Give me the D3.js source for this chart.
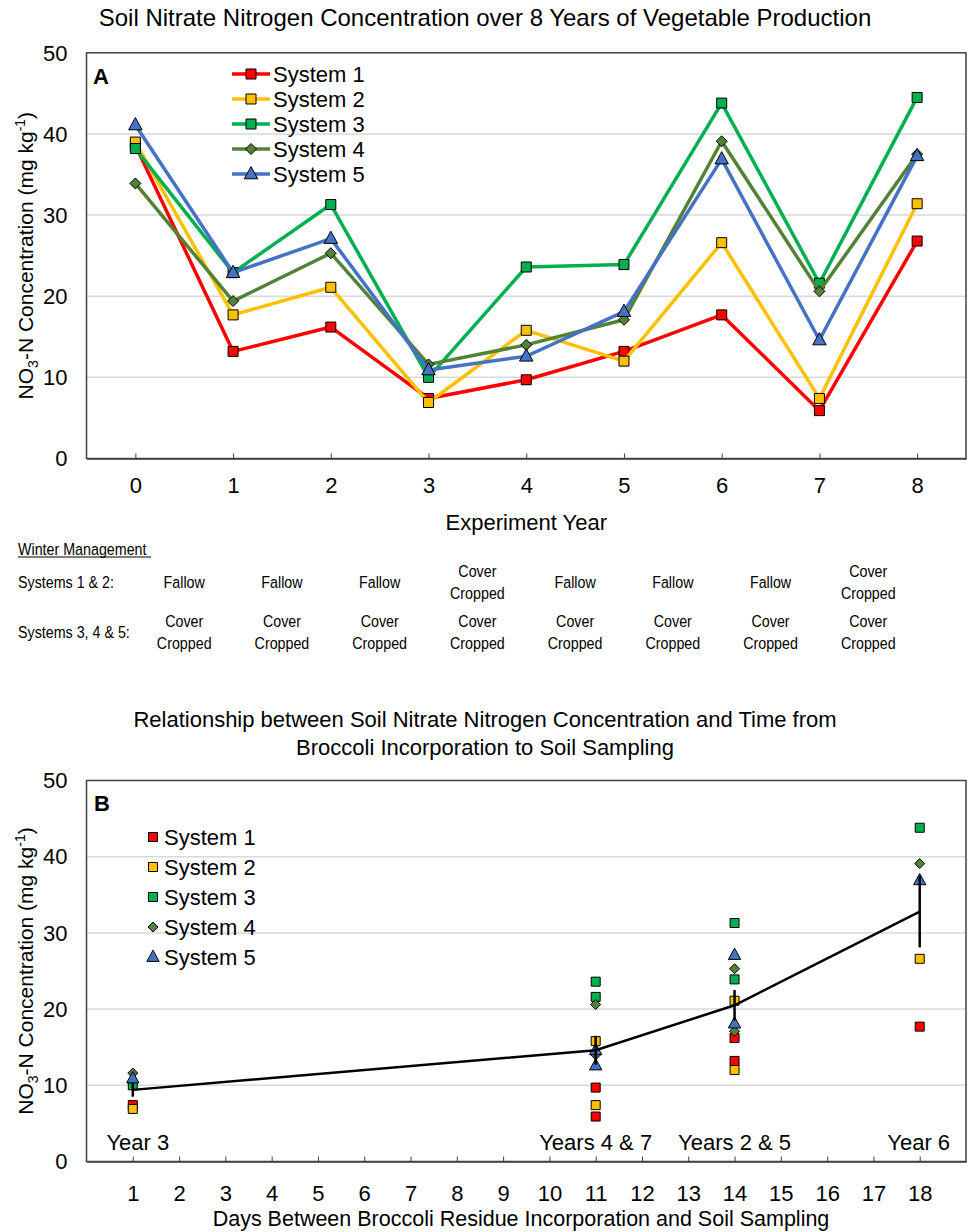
<!DOCTYPE html>
<html>
<head>
<meta charset="utf-8">
<script src="https://cdn.jsdelivr.net/npm/d3@7/dist/d3.min.js"></script>
<style>
  html, body { margin: 0; padding: 0; background: #fff; }
  svg { display: block; font-family: "Liberation Sans", Arial, sans-serif; }
</style>
</head>
<body>
<svg id="chart" width="971" height="1232"></svg>
<script>
// ---- Data -------------------------------------------------------------
const years = [0, 1, 2, 3, 4, 5, 6, 7, 8];
const systemNames = ["System 1", "System 2", "System 3", "System 4", "System 5"];
const system1 = [38.6, 13.2, 16.2, 7.4, 9.7, 13.2, 17.7, 5.9, 26.8];
const system2 = [39.0, 17.7, 21.1, 6.9, 15.8, 12.0, 26.6, 7.4, 31.4];
const system3 = [38.2, 22.9, 31.3, 10.0, 23.6, 23.9, 43.8, 21.6, 44.5];
const system4 = [33.9, 19.4, 25.3, 11.6, 14.0, 17.1, 39.1, 20.6, 37.5];
const system5 = [41.1, 22.9, 27.1, 10.9, 12.6, 18.1, 36.9, 14.6, 37.3];
const systemColors = ["#ff0000", "#ffc000", "#00b050", "#548235", "#4472c4"];
const systemShapes = ["square", "square", "square", "diamond", "triangle"];

// Days from broccoli incorporation to sampling, per experiment year (null = no broccoli)
const daysByYear = [null, null, 14, 1, 11, 14, 18, 11, null];
const dayGroupLabels = ["Year 3", "Years 4 & 7", "Years 2 & 5", "Year 6"];
const meanDays = [1, 11, 14, 18];
const meanValues = [9.4, 14.6, 20.5, 32.8];
const meanErrors = [0.9, 1.9, 2.0, 4.7];
const dayTicks = d3.range(1, 19);
const concTicks = [0, 10, 20, 30, 40, 50];

// Winter management table
const winterSys12 = ["Fallow", "Fallow", "Fallow", "Cover Cropped", "Fallow", "Fallow", "Fallow", "Cover Cropped"];
const winterSys345 = ["Cover Cropped", "Cover Cropped", "Cover Cropped", "Cover Cropped",
                      "Cover Cropped", "Cover Cropped", "Cover Cropped", "Cover Cropped"];

const seriesValues = [system1, system2, system3, system4, system5];

// ---- Helpers ----------------------------------------------------------
const svg = d3.select("#chart");
const FONT = "Liberation Sans, Arial, sans-serif";
const FS = 22;   // axis / legend text size

function markerPath(shape, size) {
  if (shape === "square") return d3.symbol(d3.symbolSquare, size * size)();
  if (shape === "diamond") {
    const h = size / 2;
    return `M0,${-h}L${h},0L0,${h}L${-h},0Z`;
  }
  const h = size;
  return `M0,${-h * 0.62}L${h * 0.56},${h * 0.4}L${-h * 0.56},${h * 0.4}Z`;
}
function markerSize(shape) {
  return shape === "square" ? 10 : shape === "diamond" ? 11 : 12;
}

function yTitle(g, cx, cy) {
  const t = g.append("text")
    .attr("transform", `translate(${cx},${cy}) rotate(-90)`)
    .attr("text-anchor", "middle")
    .attr("font-size", 21)
    .attr("fill", "#000");
  t.append("tspan").text("NO");
  t.append("tspan").attr("font-size", 14).attr("dy", 5).text("3");
  t.append("tspan").attr("dy", -5).text("-N Concentration (mg kg");
  t.append("tspan").attr("font-size", 14).attr("dy", -8).text("-1");
  t.append("tspan").attr("dy", 8).text(")");
}

function frame(g, left, right, top, bottom, y) {
  // grid
  g.append("g").selectAll("line").data(concTicks.slice(1, -1)).join("line")
    .attr("x1", left).attr("x2", right)
    .attr("y1", d => y(d)).attr("y2", d => y(d))
    .attr("stroke", "#d9d9d9").attr("stroke-width", 1.5);
  // y tick labels
  g.append("g").selectAll("text").data(concTicks).join("text")
    .attr("x", left - 19).attr("y", d => y(d)).attr("dy", "0.35em")
    .attr("text-anchor", "end").attr("font-size", FS).attr("fill", "#000")
    .text(d => d);
  g.append("rect")
    .attr("x", left).attr("y", top).attr("width", right - left).attr("height", bottom - top)
    .attr("fill", "none").attr("stroke", "#404040").attr("stroke-width", 1.5);
}

// ---- Panel A ----------------------------------------------------------
const aL = 86.5, aR = 966, aT = 52.8, aB = 458.5;
const xA = d3.scalePoint().domain(years).range([aL, aR]).padding(0.5);
const yA = d3.scaleLinear().domain([0, 50]).range([aB, aT]);

svg.append("text").attr("x", 485).attr("y", 26).attr("text-anchor", "middle")
  .attr("font-size", 24).attr("fill", "#000")
  .text("Soil Nitrate Nitrogen Concentration over 8 Years of Vegetable Production");

const gA = svg.append("g");
frame(gA, aL, aR, aT, aB, yA);

gA.append("g").attr("transform", `translate(0,${aB})`)
  .call(d3.axisBottom(xA).tickSizeInner(-5).tickSizeOuter(0).tickPadding(19))
  .call(g => g.select(".domain").attr("stroke", "#404040").attr("stroke-width", 1.5))
  .call(g => g.selectAll(".tick line").attr("stroke", "#404040"))
  .call(g => g.selectAll("text").attr("font-size", FS).attr("font-family", FONT).attr("fill", "#000"));

gA.append("text").attr("x", (aL + aR) / 2).attr("y", 530).attr("text-anchor", "middle")
  .attr("font-size", FS).attr("fill", "#000").text("Experiment Year");
yTitle(gA, 33, (aT + aB) / 2);

const lineA = d3.line().x((d, i) => xA(years[i])).y(d => yA(d));
seriesValues.forEach((vals, s) => {
  const g = gA.append("g");
  g.append("path").datum(vals).attr("d", lineA)
    .attr("fill", "none").attr("stroke", systemColors[s]).attr("stroke-width", 3.5)
    .attr("stroke-linejoin", "round");
  g.selectAll("path.m").data(vals).join("path").attr("class", "m")
    .attr("transform", (d, i) => `translate(${xA(years[i])},${yA(d)})`)
    .attr("d", markerPath(systemShapes[s], markerSize(systemShapes[s])))
    .attr("fill", systemColors[s]).attr("stroke", "#000").attr("stroke-width", 1);
});

gA.append("text").attr("x", 93).attr("y", 84).attr("font-size", 22)
  .attr("font-weight", "bold").attr("fill", "#000").text("A");

// legend A
const legA = gA.append("g");
systemNames.forEach((name, s) => {
  const ly = 74 + s * 25;
  legA.append("line").attr("x1", 232).attr("x2", 270).attr("y1", ly).attr("y2", ly)
    .attr("stroke", systemColors[s]).attr("stroke-width", 3.5);
  legA.append("path").attr("transform", `translate(251,${ly})`)
    .attr("d", markerPath(systemShapes[s], markerSize(systemShapes[s])))
    .attr("fill", systemColors[s]).attr("stroke", "#000").attr("stroke-width", 1);
  legA.append("text").attr("x", 273).attr("y", ly).attr("dy", "0.36em")
    .attr("font-size", FS).attr("fill", "#000").text(name);
});

// ---- Winter management table -------------------------------------------
const tbl = svg.append("g").attr("font-size", 17).attr("fill", "#000");
function narrowText(x, y, str, anchor) {
  tbl.append("text")
    .attr("transform", `translate(${x},${y}) scale(0.84,1)`)
    .attr("text-anchor", anchor).attr("dy", "0.35em").text(str);
}
narrowText(18, 549, "Winter Management", "start");
tbl.append("line").attr("x1", 18).attr("x2", 151).attr("y1", 557).attr("y2", 557)
  .attr("stroke", "#000").attr("stroke-width", 1);
narrowText(18, 582, "Systems  1 & 2:", "start");
narrowText(18, 632, "Systems  3, 4 & 5:", "start");
function cell(col, rowY, str) {
  const cx = (xA(years[col]) + xA(years[col + 1])) / 2;
  const parts = str.split(" ");
  if (parts.length === 1) narrowText(cx, rowY, str, "middle");
  else { narrowText(cx, rowY - 11, parts[0], "middle"); narrowText(cx, rowY + 11, parts[1], "middle"); }
}
winterSys12.forEach((s, i) => cell(i, 582, s));
winterSys345.forEach((s, i) => cell(i, 632, s));

// ---- Panel B ----------------------------------------------------------
const bL = 86.5, bR = 966, bT = 780.5, bB = 1161.5;
const xB = d3.scaleLinear().domain([0, 19]).range([bL, bR]);
const yB = d3.scaleLinear().domain([0, 50]).range([bB, bT]);

svg.append("text").attr("x", 485).attr("y", 727).attr("text-anchor", "middle")
  .attr("font-size", 22).attr("fill", "#000")
  .text("Relationship between Soil Nitrate Nitrogen Concentration and Time from");
svg.append("text").attr("x", 485).attr("y", 755).attr("text-anchor", "middle")
  .attr("font-size", 22).attr("fill", "#000")
  .text("Broccoli Incorporation to Soil Sampling");

const gB = svg.append("g");
frame(gB, bL, bR, bT, bB, yB);

gB.append("g").attr("transform", `translate(0,${bB})`)
  .call(d3.axisBottom(xB).tickValues(dayTicks).tickSizeInner(-5).tickSizeOuter(0).tickPadding(24))
  .call(g => g.select(".domain").attr("stroke", "#404040").attr("stroke-width", 1.5))
  .call(g => g.selectAll(".tick line").attr("stroke", "#404040"))
  .call(g => g.selectAll("text").attr("font-size", FS).attr("font-family", FONT).attr("fill", "#000"));

gB.append("text").attr("x", 521).attr("y", 1226).attr("text-anchor", "middle")
  .attr("font-size", 21.5).attr("fill", "#000")
  .text("Days Between Broccoli Residue Incorporation and Soil Sampling");
yTitle(gB, 33, (bT + bB) / 2);

// scatter points: each system's values at years sampled after broccoli
seriesValues.forEach((vals, s) => {
  const pts = vals.map((v, i) => ({ day: daysByYear[i], v })).filter(p => p.day !== null);
  gB.append("g").selectAll("path").data(pts).join("path")
    .attr("transform", d => `translate(${xB(d.day)},${yB(d.v)})`)
    .attr("d", markerPath(systemShapes[s], markerSize(systemShapes[s]) - 1))
    .attr("fill", systemColors[s]).attr("stroke", "#000").attr("stroke-width", 1);
});

// mean line with error bars
gB.append("path").datum(meanValues)
  .attr("d", d3.line().x((d, i) => xB(meanDays[i])).y(d => yB(d)))
  .attr("fill", "none").attr("stroke", "#000").attr("stroke-width", 2.5);
gB.append("g").selectAll("line").data(meanValues).join("line")
  .attr("x1", (d, i) => xB(meanDays[i])).attr("x2", (d, i) => xB(meanDays[i]))
  .attr("y1", (d, i) => yB(d - meanErrors[i])).attr("y2", (d, i) => yB(d + meanErrors[i]))
  .attr("stroke", "#000").attr("stroke-width", 2.5);

gB.append("g").selectAll("text").data(dayGroupLabels).join("text")
  .attr("x", (d, i) => xB(meanDays[i]) + (i === 0 ? 5 : i === 3 ? -1 : 0))
  .attr("y", 1142).attr("dy", "0.35em").attr("text-anchor", "middle")
  .attr("font-size", FS).attr("fill", "#000").text(d => d);

gB.append("text").attr("x", 94).attr("y", 811).attr("font-size", 22)
  .attr("font-weight", "bold").attr("fill", "#000").text("B");

const legB = gB.append("g");
systemNames.forEach((name, s) => {
  const ly = 837 + s * 30;
  legB.append("path").attr("transform", `translate(153,${ly})`)
    .attr("d", markerPath(systemShapes[s], markerSize(systemShapes[s]) - 1))
    .attr("fill", systemColors[s]).attr("stroke", "#000").attr("stroke-width", 1);
  legB.append("text").attr("x", 164).attr("y", ly).attr("dy", "0.36em")
    .attr("font-size", FS).attr("fill", "#000").text(name);
});
</script>
</body>
</html>
